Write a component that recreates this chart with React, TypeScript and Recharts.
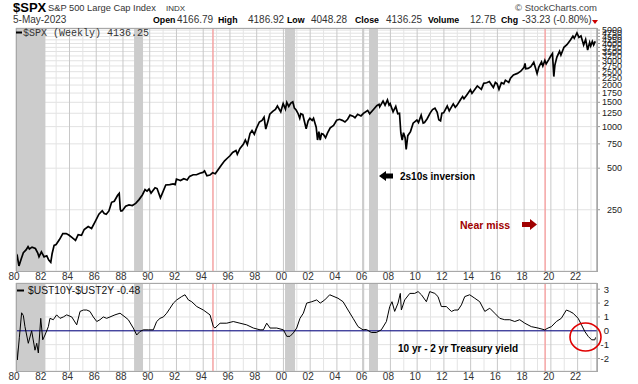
import { CartesianGrid, ComposedChart, Line, ReferenceArea, ReferenceLine, XAxis, YAxis } from 'recharts';

// S&P 500 weekly close (decimal year / close)
const SPX_DATES = [
  1980.0, 1980.1, 1980.22, 1980.4, 1980.55, 1980.75, 1980.9, 1981.0, 1981.2, 1981.45, 1981.62, 1981.72, 1981.9,
  1982.1, 1982.3, 1982.45, 1982.6, 1982.7, 1982.85, 1983.0, 1983.25, 1983.5, 1983.75, 1983.95, 1984.2, 1984.45,
  1984.65, 1984.9, 1985.1, 1985.4, 1985.65, 1985.95, 1986.2, 1986.45, 1986.6, 1986.75, 1986.95, 1987.15, 1987.35,
  1987.6, 1987.72, 1987.8, 1987.85, 1987.95, 1988.2, 1988.45, 1988.7, 1988.95, 1989.2, 1989.45, 1989.65, 1989.8,
  1989.95, 1990.1, 1990.4, 1990.55, 1990.8, 1990.95, 1991.2, 1991.5, 1991.75, 1991.9, 1992.0, 1992.3, 1992.55,
  1992.8, 1992.98, 1993.25, 1993.5, 1993.75, 1993.98, 1994.1, 1994.28, 1994.5, 1994.7, 1994.9, 1995.1, 1995.35,
  1995.6, 1995.8, 1996.0, 1996.2, 1996.45, 1996.55, 1996.75, 1997.0, 1997.15, 1997.3, 1997.5, 1997.65, 1997.82,
  1997.98, 1998.2, 1998.4, 1998.55, 1998.68, 1998.85, 1998.98, 1999.2, 1999.4, 1999.55, 1999.8, 1999.98, 2000.15,
  2000.25, 2000.4, 2000.55, 2000.7, 2000.82, 2000.95, 2001.1, 2001.22, 2001.3, 2001.45, 2001.7, 2001.85, 2001.98,
  2002.15, 2002.25, 2002.45, 2002.55, 2002.65, 2002.75, 2002.85, 2002.98, 2003.15, 2003.3, 2003.5, 2003.75,
  2003.98, 2004.2, 2004.4, 2004.6, 2004.8, 2004.98, 2005.2, 2005.35, 2005.55, 2005.8, 2005.98, 2006.3, 2006.45,
  2006.7, 2006.98, 2007.15, 2007.2, 2007.45, 2007.6, 2007.78, 2007.9, 2007.98, 2008.2, 2008.4, 2008.55, 2008.68,
  2008.78, 2008.88, 2008.98, 2009.1, 2009.18, 2009.3, 2009.5, 2009.7, 2009.98, 2010.1, 2010.3, 2010.45, 2010.55,
  2010.75, 2010.98, 2011.15, 2011.33, 2011.5, 2011.62, 2011.75, 2011.85, 2011.98, 2012.25, 2012.4, 2012.7,
  2012.85, 2012.98, 2013.25, 2013.4, 2013.5, 2013.7, 2013.98, 2014.1, 2014.35, 2014.5, 2014.8, 2014.98, 2015.2,
  2015.4, 2015.62, 2015.7, 2015.85, 2015.98, 2016.12, 2016.3, 2016.48, 2016.6, 2016.85, 2016.98, 2017.2, 2017.5,
  2017.75, 2017.98, 2018.07, 2018.12, 2018.3, 2018.5, 2018.72, 2018.85, 2018.97, 2019.1, 2019.3, 2019.4,
  2019.55, 2019.65, 2019.85, 2019.98, 2020.12, 2020.22, 2020.3, 2020.45, 2020.65, 2020.75, 2020.98, 2021.2,
  2021.45, 2021.65, 2021.75, 2021.95, 2022.1, 2022.25, 2022.45, 2022.6, 2022.75, 2022.9, 2022.98, 2023.1,
  2023.2, 2023.3, 2023.34,
];
const SPX_CLOSE = [
  110, 115, 98, 111, 122, 128, 135, 130, 134, 131, 122, 114, 124,
  114, 116, 108, 104, 120, 138, 140, 152, 168, 168, 164, 157, 150,
  165, 163, 180, 189, 183, 208, 232, 246, 235, 232, 245, 283, 288,
  318, 328, 252, 245, 246, 265, 271, 268, 278, 296, 320, 350, 341,
  353, 330, 361, 356, 305, 330, 378, 380, 385, 380, 417, 407, 420,
  411, 436, 448, 448, 460, 466, 478, 440, 446, 463, 455, 485, 525,
  565, 590, 615, 650, 672, 630, 695, 745, 800, 740, 890, 935, 880,
  970, 1080, 1110, 1170, 960, 1100, 1229, 1290, 1330, 1410, 1280, 1469, 1340,
  1500, 1400, 1480, 1510, 1360, 1320, 1240, 1150, 1240, 1220, 965, 1100, 1148,
  1110, 1150, 990, 800, 920, 800, 890, 880, 830, 900, 980, 1020,
  1112, 1130, 1110, 1080, 1130, 1212, 1190, 1160, 1230, 1195, 1248, 1310, 1240,
  1320, 1418, 1450, 1390, 1530, 1430, 1560, 1430, 1468, 1280, 1400, 1240, 1250,
  900, 800, 903, 830, 683, 860, 920, 1060, 1115, 1070, 1210, 1060, 1070,
  1140, 1258, 1330, 1360, 1270, 1120, 1100, 1250, 1258, 1410, 1300, 1460,
  1380, 1426, 1570, 1650, 1590, 1690, 1848, 1740, 1880, 1970, 1860, 2059, 2080,
  2120, 1970, 1920, 2090, 2044, 1860, 2080, 2040, 2170, 2090, 2239, 2370, 2430,
  2520, 2674, 2870, 2620, 2640, 2720, 2930, 2660, 2420, 2700, 2940, 2750,
  3020, 2850, 3070, 3231, 3380, 2305, 2790, 3190, 3510, 3300, 3756, 3920,
  4230, 4520, 4360, 4766, 4430, 4545, 3900, 4280, 3590, 4080, 3840, 4140,
  3900, 4110, 4136,
];

// 10yr minus 2yr Treasury spread
const SPREAD_DATES = [
  1980.0, 1980.1, 1980.25, 1980.42, 1980.55, 1980.67, 1980.92, 1981.17, 1981.42, 1981.55, 1981.67, 1981.85,
  1982.0, 1982.17, 1982.42, 1982.54, 1982.79, 1983.04, 1983.29, 1983.54, 1983.79, 1984.17, 1984.54, 1984.79,
  1985.04, 1985.29, 1985.53, 1985.78, 1986.04, 1986.28, 1986.53, 1986.78, 1987.03, 1987.4, 1987.78, 1988.15,
  1988.4, 1988.77, 1989.03, 1989.27, 1989.52, 1989.9, 1990.27, 1990.52, 1990.77, 1991.02, 1991.27, 1991.52,
  1991.77, 1992.02, 1992.39, 1992.64, 1992.89, 1993.14, 1993.52, 1994.01, 1994.51, 1994.76, 1994.88, 1995.26,
  1995.76, 1996.25, 1996.75, 1997.25, 1997.75, 1998.25, 1998.5, 1998.75, 1999.0, 1999.5, 2000.0, 2000.25,
  2000.49, 2000.74, 2000.99, 2001.24, 2001.49, 2001.74, 2002.12, 2002.49, 2002.75, 2003.09, 2003.46, 2004.08,
  2004.46, 2004.83, 2005.21, 2005.58, 2005.95, 2006.2, 2006.57, 2006.95, 2007.32, 2007.7, 2007.95, 2008.12,
  2008.32, 2008.57, 2008.74, 2008.82, 2009.07, 2009.45, 2009.82, 2010.07, 2010.32, 2010.69, 2010.94, 2011.32,
  2011.56, 2011.81, 2012.18, 2012.56, 2012.81, 2013.06, 2013.31, 2013.56, 2013.93, 2014.31, 2014.68, 2015.06,
  2015.43, 2015.8, 2016.18, 2016.55, 2016.93, 2017.3, 2017.67, 2018.05, 2018.54, 2019.04, 2019.54, 2019.79,
  2020.04, 2020.41, 2020.78, 2021.16, 2021.41, 2021.66, 2022.04, 2022.29, 2022.54, 2022.79, 2023.05, 2023.29,
  2023.34,
];
const SPREAD = [
  -0.65, -2.1, -0.5, 1.3, 1.1, 0.3, -0.9, 0.0, -1.4, -0.9, -1.6, 0.9,
  -0.65, -0.3, 0.3, 0.9, 0.8, 1.15, 0.9, 1.0, 1.15, 1.0, 0.43, 1.4,
  1.5, 1.5, 1.4, 1.0, 0.67, 0.8, 1.0, 0.9, 1.0, 1.15, 1.27, 1.0,
  0.8, 0.2, -0.3, -0.05, 0.07, 0.07, 0.07, 0.67, 0.9, 1.0, 1.27, 1.63,
  2.0, 2.23, 2.47, 2.6, 2.23, 2.1, 1.75, 1.5, 1.15, 0.3, 0.2, 0.55,
  0.55, 0.67, 0.55, 0.43, 0.2, 0.07, 0.07, 0.55, 0.2, 0.2, 0.07, -0.4,
  -0.4, -0.15, 0.2, 0.9, 1.27, 2.0, 2.1, 2.23, 2.0, 2.23, 2.6, 2.35,
  2.1, 1.5, 0.9, 0.3, 0.07, 0.1, -0.12, -0.12, 0.07, 0.67, 1.75, 2.1,
  1.4, 2.0, 2.7, 1.5, 2.23, 2.7, 2.7, 2.83, 2.6, 2.1, 2.83, 2.7,
  2.47, 1.75, 1.75, 1.4, 1.5, 1.5, 1.87, 2.47, 2.6, 2.35, 2.1, 1.4,
  1.63, 1.27, 0.9, 0.8, 0.8, 0.67, 0.8, 0.55, 0.3, 0.2, 0.07, 0.2,
  0.3, 0.67, 0.9, 1.5, 1.4, 1.27, 0.9, 0.43, -0.05, -0.4, -0.65, -0.65,
  -0.48,
];

const YEARS = [
  1980, 1981, 1982, 1983, 1984, 1985, 1986, 1987, 1988, 1989, 1990, 1991, 1992, 1993, 1994, 1995,
  1996, 1997, 1998, 1999, 2000, 2001, 2002, 2003, 2004, 2005, 2006, 2007, 2008, 2009, 2010, 2011,
  2012, 2013, 2014, 2015, 2016, 2017, 2018, 2019, 2020, 2021, 2022, 2023,
];
const SPX_TICKS = [250, 500, 750, 1000, 1250, 1500, 1750, 2000, 2250, 2500, 2750, 3000, 3250, 3500, 3750, 4000, 4250, 4500, 4750, 5000];
const SPREAD_TICKS = [-2, -1, 0, 1, 2, 3];

// shaded spans where 2s10s was inverted
const INVERSIONS: [number, number][] = [
  [1980.0, 1982.2],
  [1988.83, 1989.5],
  [2000.12, 2000.87],
  [2005.88, 2006.03],
  [2006.4, 2007.07],
];
const NEAR_MISS = [1994.73, 2019.57];

const X_DOMAIN: [number, number] = [1980, 2023.45];
const SANS = '"Liberation Sans", Arial, sans-serif';

const spxRows = SPX_DATES.map((t, i) => ({ t, v: SPX_CLOSE[i] }));
const spreadRows = SPREAD_DATES.map((t, i) => ({ t, v: SPREAD[i] }));

function YearTick(props: any) {
  const { x, y, payload } = props;
  if (payload.value % 2 !== 0) return <g />;
  return (
    <text x={x - 2} y={y} dy="0.71em" textAnchor="middle" fontSize={10} fill="#333" fontFamily={SANS}>
      {String(payload.value).slice(2)}
    </text>
  );
}

function makeRightTick(shift: number, size: number) {
  return (props: any) => (
    <text x={props.x + shift} y={props.y} dy="0.35em" textAnchor="end" fontSize={size} fill="#222" fontFamily={SANS}>
      {props.payload.value}
    </text>
  );
}

const vLine = (p: any) => (
  <line key={p.key} x1={p.x1} y1={p.y1} x2={p.x2} y2={p.y2} stroke={p.index % 2 === 0 ? '#c8c8c8' : '#e4e4e4'} strokeWidth={1} />
);
const hLine = (p: any) => (
  <line key={p.key} x1={p.x1} y1={p.y1} x2={p.x2} y2={p.y2} stroke="#e2e2e2" strokeWidth={1} />
);

export default function App() {
  return (
    <div style={{ position: 'relative', width: 638, height: 384, background: '#fff', overflow: 'hidden' }}>
      <style>{'body{margin:0}'}</style>

      <div style={{ position: 'absolute', left: 0, top: 0 }}>
        <ComposedChart width={638} height={290} data={spxRows} margin={{ top: 28, right: 0, bottom: 5, left: 16 }}>
          <CartesianGrid vertical={vLine} horizontal={hLine} />
          <XAxis
            type="number"
            dataKey="t"
            domain={X_DOMAIN}
            allowDataOverflow
            ticks={YEARS}
            interval={0}
            height={14}
            tickSize={0}
            tickMargin={2}
            axisLine={false}
            tick={YearTick}
          />
          <YAxis
            orientation="right"
            type="number"
            scale="log"
            domain={[90, 5180]}
            allowDataOverflow
            ticks={SPX_TICKS}
            interval={0}
            width={41}
            tickSize={3}
            tickMargin={2}
            axisLine={{ stroke: '#999' }}
            tickLine={{ stroke: '#999' }}
            tick={makeRightTick(20, 9)}
          />
          {INVERSIONS.map(([a, b]) => (
            <ReferenceArea key={a} x1={a} x2={b} fill="#cccccc" fillOpacity={1} stroke="none" ifOverflow="hidden" />
          ))}
          {NEAR_MISS.map(x => (
            <ReferenceLine key={x} x={x} stroke="#f4a3a3" strokeWidth={1.5} />
          ))}
          <Line dataKey="v" type="linear" stroke="#000" strokeWidth={1.7} dot={false} isAnimationActive={false} />
        </ComposedChart>
      </div>

      <div style={{ position: 'absolute', left: 0, top: 280 }}>
        <ComposedChart width={638} height={105} data={spreadRows} margin={{ top: 3, right: 0, bottom: 0, left: 16 }}>
          <CartesianGrid vertical={vLine} horizontal={hLine} />
          <XAxis
            type="number"
            dataKey="t"
            domain={X_DOMAIN}
            allowDataOverflow
            ticks={YEARS}
            interval={0}
            height={14}
            tickSize={0}
            tickMargin={2}
            axisLine={false}
            tick={YearTick}
          />
          <YAxis
            orientation="right"
            type="number"
            domain={[-2.9, 3.45]}
            allowDataOverflow
            ticks={SPREAD_TICKS}
            interval={0}
            width={41}
            tickSize={3}
            tickMargin={2}
            axisLine={{ stroke: '#999' }}
            tickLine={{ stroke: '#999' }}
            tick={makeRightTick(7, 9.5)}
          />
          {INVERSIONS.map(([a, b]) => (
            <ReferenceArea key={a} x1={a} x2={b} fill="#cccccc" fillOpacity={1} stroke="none" ifOverflow="hidden" />
          ))}
          {NEAR_MISS.map(x => (
            <ReferenceLine key={x} x={x} stroke="#f4a3a3" strokeWidth={1.5} />
          ))}
          <ReferenceLine y={0} stroke="#000080" strokeWidth={1} />
          <Line dataKey="v" type="linear" stroke="#000" strokeWidth={1} dot={false} isAnimationActive={false} />
        </ComposedChart>
      </div>

      {/* panel frames */}
      <div style={{ position: 'absolute', left: 16, top: 28, width: 582, height: 244, border: '1px solid #a8a8a8', boxSizing: 'border-box' }} />
      <div style={{ position: 'absolute', left: 16, top: 283, width: 582, height: 89, border: '1px solid #a8a8a8', boxSizing: 'border-box' }} />

      <svg width={638} height={384} style={{ position: 'absolute', left: 0, top: 0, pointerEvents: 'none' }}>
        <g fontFamily={SANS}>
          <text x={13} y={11.5} fontSize={13} fontWeight="bold" fill="#000">$SPX</text>
          <text x={48} y={11} fontSize={9.3} fill="#333">S&amp;P 500 Large Cap Index</text>
          <text x={166} y={10.5} fontSize={8} fill="#333">INDX</text>
          <text x={597} y={11} fontSize={9.5} fill="#444" textAnchor="end">© StockCharts.com</text>

          <text x={13} y={23} fontSize={10} fill="#333">5-May-2023</text>
          <text y={23} fontSize={10} fill="#000">
            <tspan x={153} fontWeight="bold" fontSize={8.8}>Open</tspan>
            <tspan x={177} fill="#333">4166.79</tspan>
            <tspan x={218} fontWeight="bold" fontSize={8.8}>High</tspan>
            <tspan x={248} fill="#333">4186.92</tspan>
            <tspan x={287} fontWeight="bold" fontSize={8.8}>Low</tspan>
            <tspan x={311} fill="#333">4048.28</tspan>
            <tspan x={355} fontWeight="bold" fontSize={8.8}>Close</tspan>
            <tspan x={386} fill="#333">4136.25</tspan>
            <tspan x={428} fontWeight="bold" fontSize={8.8}>Volume</tspan>
            <tspan x={470} fill="#333">12.7B</tspan>
            <tspan x={501} fontWeight="bold" fontSize={8.8}>Chg</tspan>
            <tspan x={522} fill="#333">-33.23 (-0.80%)</tspan>
          </text>
          <polygon points="592,20 598,20 595,24" fill="#cc0000" />

          <line x1={16} y1={32.5} x2={22} y2={32.5} stroke="#000" strokeWidth={2} />
          <text x={23} y={35.5} fontSize={10} fill="#333" fontFamily='"Liberation Mono", "DejaVu Sans Mono", monospace'>
            $SPX (Weekly) 4136.25
          </text>

          <line x1={17} y1={290.5} x2={24} y2={290.5} stroke="#000" strokeWidth={2} />
          <text x={28} y={294} fontSize={10.3} fill="#111">$UST10Y-$UST2Y -0.48</text>

          <polygon points="379,176 386,171 386,173.5 393,173.5 393,178.5 386,178.5 386,181" fill="#000" />
          <text x={400} y={180} fontSize={10} fontWeight="bold" fill="#000">2s10s inversion</text>

          <text x={460} y={229} fontSize={10.5} fontWeight="bold" fill="#a00000">Near miss</text>
          <polygon points="522,222 530,222 530,219 537,224.5 530,230 530,227 522,227" fill="#a00000" />

          <text x={398} y={352} fontSize={10} fontWeight="bold" fill="#000">10 yr - 2 yr Treasury yield</text>

          <ellipse cx={585.5} cy={337} rx={15.5} ry={14} fill="none" stroke="#e00000" strokeWidth={1.6} />
        </g>
      </svg>
    </div>
  );
}
